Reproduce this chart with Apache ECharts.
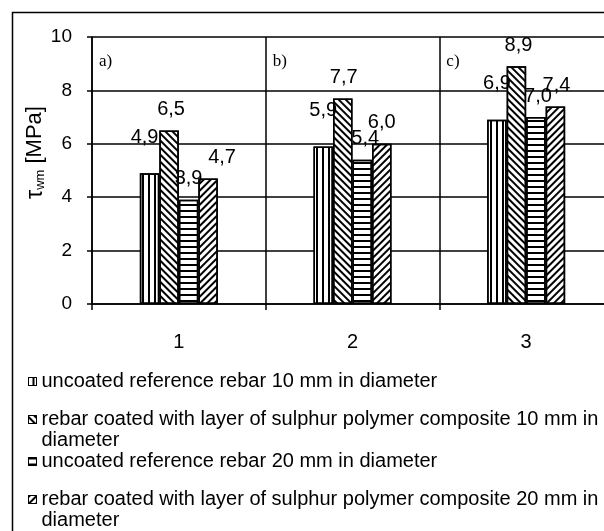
<!DOCTYPE html>
<html>
<head>
<meta charset="utf-8">
<script src="https://cdn.jsdelivr.net/npm/echarts@6.0.0/dist/echarts.min.js"></script>
<style>
  html, body { margin: 0; padding: 0; background: #fff; }
  #bond-chart { width: 604px; height: 531px; }
</style>
</head>
<body>
<div id="bond-chart"></div>
<script>
var categories = ['1', '2', '3'];
var panelTags = ['a)', 'b)', 'c)'];
var seriesNames = [
  'uncoated reference rebar 10 mm in diameter',
  'rebar coated with layer of sulphur polymer composite 10 mm in diameter',
  'uncoated reference rebar 20 mm in diameter',
  'rebar coated with layer of sulphur polymer composite 20 mm in diameter'
];
var uncoated10 = [4.9, 5.9, 6.9];
var coated10 = [6.5, 7.7, 8.9];
var uncoated20 = [3.9, 5.4, 7.0];
var coated20 = [4.7, 6.0, 7.4];
var yTicks = [0, 2, 4, 6, 8, 10];

// label nudges (px) copied from how the labels sit in the original
var labelDist = [26, 11, 11, 11];
var labelDx = [[-5, 0, 0], [2, 1, 2], [0, 3, 2], [14, 0, 1]];
// decal stripe patterns: rotation in radians
var stripes = [
  { rotation: Math.PI / 2, dashArrayY: [1.5, 3.5] },
  { rotation: Math.PI / 4, dashArrayY: [1.6, 2.4] },
  { rotation: 0, dashArrayY: [1.5, 3.5] },
  { rotation: -Math.PI / 4, dashArrayY: [1.3, 2.3] }
];
var legendTops = [371, 388, 451, 468];

var font = 'Liberation Sans, Arial, sans-serif';
var chart = echarts.init(document.getElementById('bond-chart'));

function fmt(p) {
  return p.value.toFixed(1).replace('.', ',');
}

var allValues = [uncoated10, coated10, uncoated20, coated20];
var series = allValues.map(function (vals, i) {
  return {
    name: seriesNames[i],
    type: 'bar',
    barWidth: 19.5,
    barGap: '0%',
    itemStyle: {
      color: '#fff',
      borderColor: '#000',
      borderWidth: 1.5,
      decal: {
        symbol: 'rect',
        symbolSize: 1,
        color: '#000',
        dashArrayX: [1, 0],
        dashArrayY: stripes[i].dashArrayY,
        rotation: stripes[i].rotation
      }
    },
    label: {
      show: true,
      position: 'top',
      distance: labelDist[i],
      fontFamily: font,
      fontSize: 20,
      color: '#000',
      formatter: fmt
    },
    data: vals.map(function (v, j) {
      return { value: v, label: { offset: [labelDx[i][j], 0] } };
    })
  };
});

// each legend row is placed on its own, like the original's fixed rows;
// long names wrap before their last word, and an empty first line keeps
// the icon level with line one
var legends = seriesNames.map(function (n, i) {
  var wrapped = (i === 1 || i === 3);
  return {
    data: [n],
    orient: 'vertical',
    left: 28,
    top: legendTops[i],
    padding: 0,
    icon: 'rect',
    itemWidth: 8,
    itemHeight: 8,
    selectedMode: false,
    itemStyle: { borderColor: '#000', borderWidth: 1 },
    formatter: function (name) {
      return wrapped ? '\n' + name.replace(/ (\S+)$/, '\n$1') : name;
    },
    textStyle: {
      fontFamily: font,
      fontSize: 20,
      color: '#000',
      lineHeight: 21
    }
  };
});

var option = {
  backgroundColor: '#fff',
  animation: false,
  grid: {
    left: 92,
    right: -9,
    top: 37,
    bottom: 227,
    containLabel: false,
    outerBoundsMode: 'none'
  },
  legend: legends,
  xAxis: {
    type: 'category',
    data: categories,
    axisLine: { lineStyle: { color: '#000', width: 1.5 } },
    axisTick: { show: true, length: 6, lineStyle: { color: '#000', width: 1.5 } },
    splitLine: { show: true, lineStyle: { color: '#000', width: 1.5 } },
    axisLabel: { margin: 28, fontFamily: font, fontSize: 20, color: '#000' }
  },
  yAxis: {
    type: 'value',
    min: yTicks[0],
    max: yTicks[yTicks.length - 1],
    interval: yTicks[1] - yTicks[0],
    name: '{t|τ}{s|wm} [MPa]',
    nameLocation: 'middle',
    nameGap: 45,
    nameMoveOverlap: false,
    nameRotate: 90,
    nameTextStyle: {
      fontFamily: font,
      fontSize: 22,
      color: '#000',
      padding: [0, 0, 0, 36],
      rich: {
        t: { fontFamily: font, fontSize: 23, color: '#000', verticalAlign: 'bottom', lineHeight: 24 },
        s: { fontFamily: font, fontSize: 13, color: '#000', verticalAlign: 'bottom', lineHeight: 15 }
      }
    },
    axisLine: { show: true, lineStyle: { color: '#000', width: 1.5 } },
    axisTick: { show: true, length: 5, lineStyle: { color: '#000', width: 1.5 } },
    splitLine: { show: true, lineStyle: { color: '#000', width: 1.5 } },
    axisLabel: { margin: 20, fontFamily: font, fontSize: 19, color: '#000' }
  },
  graphic: [{
    type: 'rect',
    z: -10,
    shape: { x: 12.5, y: 12.5, width: 900, height: 900 },
    style: { fill: null, stroke: '#000', lineWidth: 1.5 }
  }],
  series: series
};

chart.setOption(option);

// panel tags a) b) c) sit in the top-left corner of each category cell
var c0 = chart.convertToPixel({ xAxisIndex: 0 }, categories[0]);
var c1 = chart.convertToPixel({ xAxisIndex: 0 }, categories[1]);
var band = c1 - c0;
var yTop = chart.convertToPixel({ yAxisIndex: 0 }, yTicks[yTicks.length - 1]);
var tags = panelTags.map(function (t, i) {
  var cx = chart.convertToPixel({ xAxisIndex: 0 }, categories[i]);
  return {
    type: 'text',
    x: cx - band / 2 + 7,
    y: yTop + 25,
    style: {
      text: t,
      font: '17px "Liberation Serif", "Times New Roman", serif',
      fill: '#000',
      verticalAlign: 'middle'
    }
  };
});
chart.setOption({ graphic: option.graphic.concat(tags) });

window.addEventListener('resize', function () {
  chart.resize();
});
</script>
</body>
</html>
